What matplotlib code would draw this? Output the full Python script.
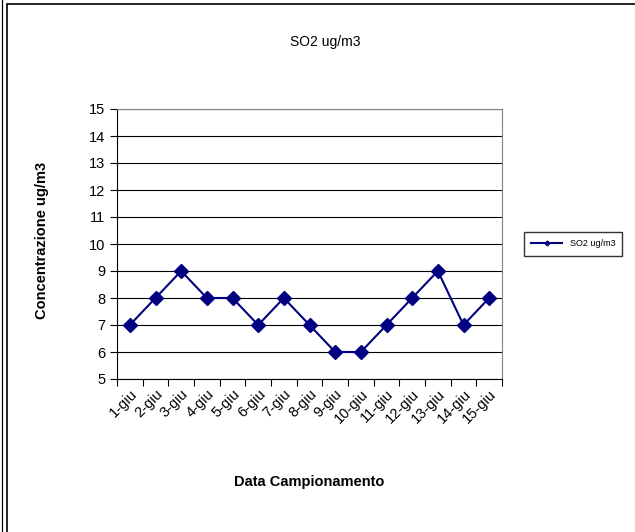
import numpy as np
import matplotlib
matplotlib.use("Agg")
import matplotlib.pyplot as plt
from matplotlib.patches import Rectangle

plt.rcParams['font.family'] = ['Liberation Sans', 'DejaVu Sans']

dates = ['1-giu', '2-giu', '3-giu', '4-giu', '5-giu', '6-giu', '7-giu', '8-giu',
         '9-giu', '10-giu', '11-giu', '12-giu', '13-giu', '14-giu', '15-giu']
so2 = [7, 8, 9, 8, 8, 7, 8, 7, 6, 6, 7, 8, 9, 7, 8]

fig = plt.figure(figsize=(6.35, 5.32), dpi=100)
ax = fig.add_axes([117/635, 1 - 379/532, (502 - 117)/635, (379 - 109)/532])

x = np.arange(len(dates))
ax.plot(x, so2, color='#000080', lw=1.5, marker='D', ms=7, label='SO2 ug/m3')

ax.set_xlim(-0.5, len(dates) - 0.5)
ax.set_ylim(5, 15)
ax.set_yticks(np.arange(5, 16, 1))
ax.yaxis.grid(True, color='black', lw=0.8)
ax.set_axisbelow(True)

# category axis: tick marks between categories, labels at centres
ax.set_xticks(np.arange(-0.5, len(dates), 1))
ax.set_xticklabels([])
ax.set_xticks(x, minor=True)
ax.set_xticklabels(dates, minor=True, rotation=45, ha='right', rotation_mode='anchor', fontsize=10.5)
ax.tick_params(axis='x', which='minor', length=0, pad=6)
ax.tick_params(axis='x', which='major', length=5, color='black')
ax.tick_params(axis='y', length=5, labelsize=10.5, color='black')

ax.spines['top'].set_color('#808080')
ax.spines['right'].set_color('#808080')
ax.spines['left'].set_color('black')
ax.spines['bottom'].set_color('black')

fig.text(325/635, 1 - 42/532, 'SO2 ug/m3', ha='center', va='center', fontsize=10)
fig.text(42/635, 1 - 240/532, 'Concentrazione ug/m3', ha='center', va='center',
         rotation=90, fontsize=10.5, fontweight='bold')
fig.text(309/635, 1 - 482/532, 'Data Campionamento', ha='center', va='center',
         fontsize=10.5, fontweight='bold')

leg = fig.legend(loc='center', bbox_to_anchor=(573/635, 1 - 244/532), fontsize=6.5,
                 frameon=True, fancybox=False, edgecolor='black', markerscale=0.35,
                 handlelength=3.5, borderpad=0.8)
leg.get_frame().set_linewidth(1.0)

fig.patches.append(Rectangle((7/635, -0.01), 1.0, 1 - 4/532 + 0.01, transform=fig.transFigure,
                             fill=False, edgecolor='black', lw=1.2))
fig.patches.append(Rectangle((2/635, -0.01), 0.0, 1.02, transform=fig.transFigure,
                             fill=False, edgecolor='black', lw=0.8))

fig.savefig('out.png', dpi=100)
